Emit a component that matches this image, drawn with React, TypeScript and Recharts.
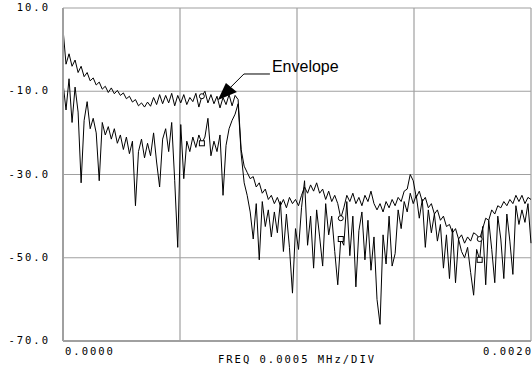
import { LineChart, Line, XAxis, YAxis, CartesianGrid, ReferenceDot, Label } from 'recharts';

// spectrum analyzer trace (dB)
const envelope = [
  5.0, -3.5, -1.0, -4.0, -2.5, -5.5, -4.0, -6.5, -5.5, -7.5,
  -6.8, -8.5, -7.8, -9.5, -8.8, -10.3, -9.2, -10.6, -9.8, -11.0,
  -10.4, -11.8, -11.2, -12.6, -12.0, -13.5, -12.8, -13.8, -12.6, -13.6,
  -11.5, -13.2, -10.8, -13.0, -11.0, -12.8, -10.5, -13.5, -11.0, -12.8,
  -10.8, -13.2, -11.5, -12.5, -10.5, -13.8, -11.2, -10.0, -12.8, -10.8,
  -13.0, -11.2, -14.0, -11.5, -13.2, -10.8, -13.5, -11.0, -12.0, -24.0,
  -28.0, -29.5, -31.0, -30.5, -33.0, -32.0, -34.5, -33.5, -36.0, -35.0,
  -37.0, -35.5, -37.5, -36.0, -38.0, -35.5, -37.0, -36.0, -37.5, -35.0,
  -33.0, -34.5, -32.5, -34.0, -32.0, -34.5, -33.5, -36.0, -34.0, -36.5,
  -35.0, -37.0, -40.5, -38.0, -35.0, -36.5, -34.5, -37.0, -35.5, -37.5,
  -35.0, -36.5, -34.0, -37.0, -38.5, -37.0, -39.0, -36.5, -38.0, -36.0,
  -37.5, -35.5, -36.5, -34.0, -33.5, -30.0, -31.5, -35.5, -34.0, -36.5,
  -35.5, -38.0, -37.0, -39.5, -38.5, -41.0, -40.0, -42.5, -42.0, -44.0,
  -43.0, -45.5, -44.5, -46.5, -45.0, -46.0, -44.0, -44.5, -45.5, -43.0,
  -40.5, -41.0, -38.5, -39.5, -37.5, -38.0, -36.5, -37.5, -36.0, -37.0,
  -35.0, -36.5, -35.0, -37.0, -35.5, -36.0,
];

const signal = [
  -8.0, -14.5, -7.0, -17.5, -9.0, -15.0, -32.0, -17.0, -12.5, -19.0,
  -16.5, -20.0, -31.5, -17.5, -20.5, -18.5, -21.5, -19.0, -22.5, -20.5,
  -24.0, -21.0, -25.0, -22.0, -37.5, -24.5, -21.5, -26.0, -22.5, -25.5,
  -20.0, -27.0, -33.0, -21.5, -19.0, -24.5, -17.5, -31.5, -47.5, -18.0,
  -31.0, -22.0, -24.5, -21.0, -23.5, -20.5, -22.5, -21.0, -16.5, -25.5,
  -22.0, -24.5, -20.5, -35.0, -23.0, -19.0, -17.0, -15.5, -13.0, -25.0,
  -32.0, -35.0, -39.0, -45.5, -37.0, -50.5, -36.5, -42.5, -38.5, -45.0,
  -39.0, -44.0, -36.5, -48.5, -39.5, -47.5, -58.5, -43.0, -48.0, -38.0,
  -31.5, -47.0, -40.0, -52.5, -38.5, -45.0, -52.0, -37.0, -44.5, -40.0,
  -48.5, -56.5, -45.5, -47.0, -36.5, -49.5, -40.0, -57.0, -43.5, -39.0,
  -50.5, -41.0, -53.0, -45.0, -60.0, -66.0, -44.5, -51.5, -40.0, -52.0,
  -49.0, -38.5, -43.0, -36.5, -39.0, -34.5, -37.0, -35.0, -40.5, -36.0,
  -47.5, -38.5, -44.0, -39.5, -46.0, -42.0, -52.5, -44.5, -55.0, -43.0,
  -56.0, -45.5, -48.5, -50.0, -47.5, -53.5, -59.0, -48.0, -50.5, -42.5,
  -56.5, -41.0, -48.0, -56.0, -40.0, -45.5, -55.0, -39.5, -46.0, -54.0,
  -37.5, -42.0, -38.5, -41.5, -37.0, -46.5,
];

const freqSpan = 0.002; // MHz
const xTicks = [0, 0.0005, 0.001, 0.0015, 0.002];
const yTicks = [-70, -50, -30, -10, 10];
const markerIdx = [46, 92, 138];

const step = freqSpan / (envelope.length - 1);
const data = envelope.map((v, i) => ({ freq: i * step, envelope: v, signal: signal[i] }));

const mono = '"DejaVu Sans Mono", monospace';

const YTick = ({ x, y, payload }: any) => (
  <text x={x - 5} y={y} textAnchor="end" dominantBaseline="middle"
    fontFamily={mono} fontSize={10.5} letterSpacing={2} fill="#000">
    {payload.value.toFixed(1)}
  </text>
);

const XTick = ({ x, y, payload }: any) => {
  if (payload.value !== 0 && payload.value !== freqSpan) return <g />;
  const first = payload.value === 0;
  return (
    <text x={first ? x + 2 : x + 2} y={y + 3} textAnchor={first ? 'start' : 'end'}
      dominantBaseline="middle" fontFamily={mono} fontSize={10.5} letterSpacing={2} fill="#000">
      {payload.value.toFixed(4)}
    </text>
  );
};

const circleDot = (p: any) =>
  markerIdx.includes(p.index)
    ? <circle key={p.index} cx={p.cx} cy={p.cy} r={2.5} fill="#fff" stroke="#000" strokeWidth={1} />
    : <g key={p.index} />;

const squareDot = (p: any) =>
  markerIdx.includes(p.index)
    ? <rect key={p.index} x={p.cx - 2.5} y={p.cy - 2.5} width={5} height={5} fill="#fff" stroke="#000" strokeWidth={1} />
    : <g key={p.index} />;

// arrow + leader + text, anchored on the arrow tip
const EnvelopeNote = ({ cx, cy }: any) => (
  <g>
    <polygon points={`${cx},${cy} ${cx + 8},${cy - 17} ${cx + 19},${cy - 8}`} fill="#000" />
    <polyline points={`${cx + 13},${cy - 13} ${cx + 26},${cy - 26} ${cx + 52},${cy - 26}`}
      fill="none" stroke="#000" strokeWidth={1} />
    <text x={cx + 54} y={cy - 32} dominantBaseline="middle"
      fontFamily='"Liberation Sans", Arial, sans-serif' fontSize={16} fill="#000">
      Envelope
    </text>
  </g>
);

export default function App() {
  return (
    <div style={{ position: 'fixed', left: 0, top: 0, background: '#fff' }}>
      <LineChart width={532} height={370} data={data} margin={{ top: 8, right: 1, bottom: 0, left: 0 }}>
        <CartesianGrid stroke="#a0a0a0" strokeWidth={1.2} horizontalValues={yTicks} verticalValues={xTicks} />
        <XAxis dataKey="freq" type="number" domain={[0, freqSpan]} ticks={xTicks} tick={<XTick />}
          tickLine={false} axisLine={{ stroke: '#a0a0a0', strokeWidth: 2 }} height={29} interval={0}>
          <Label value="FREQ 0.0005 MHz/DIV" position="insideBottom" offset={7}
            style={{ fontFamily: mono, fontSize: 10.5, letterSpacing: 2, fill: '#000' }} />
        </XAxis>
        <YAxis type="number" domain={[-70, 10]} ticks={yTicks} tick={<YTick />} tickLine={false}
          axisLine={{ stroke: '#a0a0a0', strokeWidth: 2 }} width={63} interval={0} />
        <Line type="linear" dataKey="envelope" stroke="#000" strokeWidth={1} dot={circleDot} activeDot={false} isAnimationActive={false} />
        <Line type="linear" dataKey="signal" stroke="#000" strokeWidth={1} dot={squareDot} activeDot={false} isAnimationActive={false} />
        <ReferenceDot x={0.000662} y={-12.1} r={0} shape={<EnvelopeNote />} />
      </LineChart>
    </div>
  );
}
